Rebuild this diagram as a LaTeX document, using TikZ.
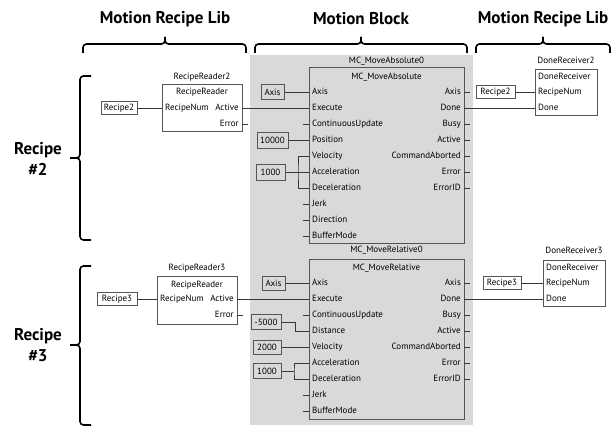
\documentclass[tikz,border=0pt]{standalone}
\usepackage{fontspec}
\setmainfont{PT Sans}
\begin{document}
\definecolor{bgg}{RGB}{217,217,217}
\definecolor{edge}{RGB}{85,85,85}
\definecolor{wirec}{RGB}{55,55,55}
\tikzset{
 lbl/.style={font=\fontsize{9}{10}\selectfont, inner sep=0, text height=6.4, text depth=1.8},
 hdr/.style={font=\fontsize{17}{21}\selectfont\bfseries, inner sep=0, align=center},
 fb/.style={draw=edge, line width=1pt, inner sep=0, outer sep=0, anchor=north west},
 cbox/.style={draw=edge, line width=1pt, inner sep=0, minimum height=14, font=\fontsize{9}{10}\selectfont},
 obox/.style={cbox, fill=white, line width=0.8pt, minimum height=13},
 wr/.style={draw=wirec, line width=0.9pt},
 brc/.style={line width=1.6pt, rounded corners=3.5},
}
\begin{tikzpicture}[x=1pt,y=-1pt]
\useasboundingbox (0,0) rectangle (616,428);
\fill[white] (0,0) rectangle (616,428);
% headers
\node[hdr] (h1) at (165,19) {Motion Recipe Lib};
\node[hdr] (h2) at (361,19) {Motion Block};
\node[hdr] (h3) at (543,19) {Motion Recipe Lib};
% top braces
\draw[brc] (83,53) -- (83,44) -- (165,44) -- (165,37);
\draw[brc] (246,53) -- (246,44) -- (165,44) -- (165,37);
\draw[brc] (255,53) -- (255,44) -- (361,44) -- (361,37);
\draw[brc] (467,53) -- (467,44) -- (361,44) -- (361,37);
\draw[brc] (476,53) -- (476,44) -- (543,44) -- (543,37);
\draw[brc] (610,53) -- (610,44) -- (543,44) -- (543,37);
% left braces
\node[hdr] (rc2) at (38,159) {Recipe\\\#2};
\node[hdr] (rc3) at (38,345) {Recipe\\\#3};
\draw[brc] (91,76) -- (80,76) -- (80,158) -- (70,158);
\draw[brc] (91,240) -- (80,240) -- (80,158) -- (70,158);
\draw[brc] (91,266) -- (80,266) -- (80,345) -- (70,345);
\draw[brc] (91,425) -- (80,425) -- (80,345) -- (70,345);
% grey area
\fill[bgg] (250,55) rectangle (473,425);

% ===== Block 1 =====
\node[lbl] (mc1t) at (386.5,61) {MC\_MoveAbsolute0};
\node[fb, minimum width=155, minimum height=175] (mc1) at (309,68) {};
\node[lbl] (mc1h) at (386.5,77) {MC\_MoveAbsolute};
\foreach \n/\y [count=\i] in {Axis/92,Execute/108,ContinuousUpdate/124,Position/140,Velocity/156,Acceleration/172,Deceleration/188,Jerk/204,Direction/220,BufferMode/236}{
  \node[lbl,anchor=west] (mc1-l\i) at (312,\y) {\n};
  \coordinate (mc1-in\i) at (309,\y);
}
\foreach \n/\y [count=\i] in {Axis/92,Done/108,Busy/124,Active/140,CommandAborted/156,Error/172,ErrorID/188}{
  \node[lbl,anchor=east] (mc1-r\i) at (461,\y) {\n};
  \coordinate (mc1-out\i) at (464,\y);
}
\foreach \i in {3,8,9,10}{\draw[wr] (mc1-in\i) -- ++(-6,0);}
\foreach \i in {1,3,4,5,6,7}{\draw[wr] (mc1-out\i) -- ++(6,0);}
\node[cbox, minimum width=23] (c1ax) at (272.5,92) {Axis};
\node[cbox, minimum width=31, minimum height=16] (c1pos) at (272.5,140) {10000};
\node[cbox, minimum width=29, minimum height=16] (c1acc) at (270.5,172) {1000};
\draw[wr] (c1ax) -- (mc1-in1);
\draw[wr] (c1pos) -- (mc1-in4);
\draw[wr] (c1acc) -- (mc1-in6);
\coordinate (j1) at (298,172);
\draw[wr] (mc1-in5) -| (j1) |- (mc1-in7);

% ===== Block 2 =====
\node[lbl] (mc2t) at (386.5,250) {MC\_MoveRelative0};
\node[fb, minimum width=155, minimum height=160] (mc2) at (309,259) {};
\node[lbl] (mc2h) at (386.5,268) {MC\_MoveRelative};
\foreach \n/\y [count=\i] in {Axis/283,Execute/299,ContinuousUpdate/315,Distance/331,Velocity/347,Acceleration/363,Deceleration/379,Jerk/395,BufferMode/411}{
  \node[lbl,anchor=west] (mc2-l\i) at (312,\y) {\n};
  \coordinate (mc2-in\i) at (309,\y);
}
\foreach \n/\y [count=\i] in {Axis/283,Done/299,Busy/315,Active/331,CommandAborted/347,Error/363,ErrorID/379}{
  \node[lbl,anchor=east] (mc2-r\i) at (461,\y) {\n};
  \coordinate (mc2-out\i) at (464,\y);
}
\foreach \i in {3,8,9}{\draw[wr] (mc2-in\i) -- ++(-6,0);}
\foreach \i in {1,3,4,5,6,7}{\draw[wr] (mc2-out\i) -- ++(6,0);}
\node[cbox, minimum width=23] (c2ax) at (273.5,283) {Axis};
\node[cbox, minimum width=30, minimum height=15] (c2dist) at (266,322) {-5000};
\node[cbox, minimum width=28] (c2vel) at (267,347) {2000};
\node[cbox, minimum width=28, minimum height=15] (c2acc) at (267,371) {1000};
\draw[wr] (c2ax) -- (mc2-in1);
\coordinate (j3) at (295,331);
\draw[wr] (c2dist.east) -| (j3) -- (mc2-in4);
\draw[wr] (c2vel) -- (mc2-in5);
\coordinate (j2) at (294,371);
\draw[wr] (c2acc.east) -- (j2);
\draw[wr] (mc2-in6) -| (j2) |- (mc2-in7);

% ===== Recipe readers =====
\node[lbl] (rr2t) at (202,77) {RecipeReader2};
\node[fb, fill=white, line width=0.9pt, minimum width=80, minimum height=47] (rr2) at (162,84) {};
\node[lbl] (rr2h) at (202,92) {RecipeReader};
\node[lbl,anchor=west] (rr2n) at (165,108) {RecipeNum};
\node[lbl,anchor=east] (rr2a) at (239,108) {Active};
\node[lbl,anchor=east] (rr2e) at (239,124) {Error};
\coordinate (rr2-in) at (162,108);
\coordinate (rr2-act) at (242,108);
\coordinate (rr2-err) at (242,124);
\node[obox, minimum width=36] (r2a) at (119,108) {Recipe2};
\draw[wr] (r2a) -- (rr2-in);
\draw[wr] (rr2-act) -- (mc1-in2);
\draw[wr] (rr2-err) -- ++(6,0);

\node[lbl] (rr3t) at (197,268) {RecipeReader3};
\node[fb, fill=white, line width=0.9pt, minimum width=80, minimum height=48] (rr3) at (157,276) {};
\node[lbl] (rr3h) at (197,285) {RecipeReader};
\node[lbl,anchor=west] (rr3n) at (160,299) {RecipeNum};
\node[lbl,anchor=east] (rr3a) at (234,299) {Active};
\node[lbl,anchor=east] (rr3e) at (234,315) {Error};
\coordinate (rr3-in) at (157,299);
\coordinate (rr3-act) at (237,299);
\coordinate (rr3-err) at (237,315);
\node[obox, minimum width=40] (r3a) at (117,299) {Recipe3};
\draw[wr] (r3a) -- (rr3-in);
\draw[wr] (rr3-act) -- (mc2-in2);
\draw[wr] (rr3-err) -- ++(6,0);

% ===== Done receivers =====
\node[lbl] (dr2t) at (566,61) {DoneReceiver2};
\node[fb, fill=white, line width=0.9pt, minimum width=62, minimum height=46] (dr2) at (535,69) {};
\node[lbl,anchor=west] (dr2h) at (538,77) {DoneReceiver};
\node[lbl,anchor=west] (dr2n) at (538,92) {RecipeNum};
\node[lbl,anchor=west] (dr2d) at (538,108) {Done};
\coordinate (dr2-in) at (535,92);
\coordinate (dr2-done) at (535,108);
\node[obox, minimum width=39] (r2b) at (495.5,92) {Recipe2};
\draw[wr] (r2b) -- (dr2-in);
\draw[wr] (mc1-out2) -- (dr2-done);

\node[lbl] (dr3t) at (574,251) {DoneReceiver3};
\node[fb, fill=white, line width=0.9pt, minimum width=62, minimum height=46] (dr3) at (543,260) {};
\node[lbl,anchor=west] (dr3h) at (546,268) {DoneReceiver};
\node[lbl,anchor=west] (dr3n) at (546,283) {RecipeNum};
\node[lbl,anchor=west] (dr3d) at (546,299) {Done};
\coordinate (dr3-in) at (543,283);
\coordinate (dr3-done) at (543,299);
\node[obox, minimum width=38] (r3b) at (502,283) {Recipe3};
\draw[wr] (r3b) -- (dr3-in);
\draw[wr] (mc2-out2) -- (dr3-done);
\end{tikzpicture}
\end{document}
